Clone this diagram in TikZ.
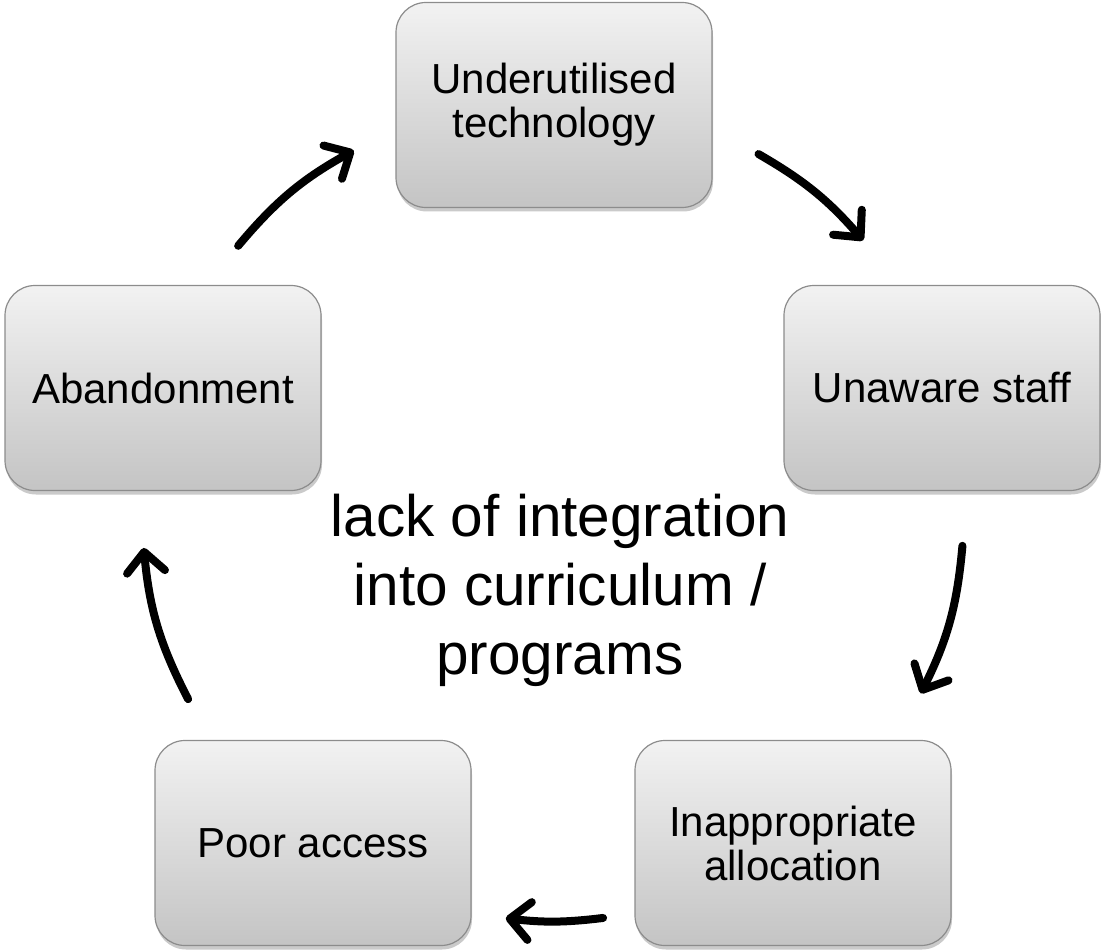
\documentclass[tikz,border=0pt]{standalone}
\usepackage{fontspec}
\setmainfont{Liberation Sans}
\usetikzlibrary{arrows.meta,shadows,calc}
\definecolor{boxtop}{HTML}{F2F2F2}
\definecolor{boxbot}{HTML}{C4C4C4}
\definecolor{boxline}{HTML}{8C8C8C}
\tikzset{
  cyclebox/.style={draw=boxline, line width=1.2pt, rounded corners=30pt,
    top color=boxtop, bottom color=boxbot,
    minimum width=316pt, minimum height=205pt, align=center,
    font=\fontsize{42}{44}\selectfont, inner sep=0pt,
    drop shadow={shadow xshift=1pt, shadow yshift=-4pt, opacity=0.35, fill=black!60}},
  cyclearrow/.style={line width=8pt, line cap=round,
    -{Straight Barb[length=20pt,width=38pt,round]}},
}
\begin{document}
\begin{tikzpicture}[x=1pt,y=-1pt]
\useasboundingbox (0,0) rectangle (1101,952);
\node[cyclebox] (top) at (554,105) {Underutilised\\technology};
\node[cyclebox] (right) at (942,388) {Unaware staff};
\node[cyclebox] (br) at (793,843) {Inappropriate\\allocation};
\node[cyclebox] (bl) at (313,843) {Poor access};
\node[cyclebox] (left) at (163,388) {Abandonment};
\node[align=center, font=\fontsize{58.5}{69}\selectfont] (mid) at (560,590)
  {lack of integration\\into curriculum /\\programs};
\coordinate (c) at (553,510);
\coordinate (a1s) at ($(c)+(-140:411)$);
\coordinate (a1e) at ($(c)+(-119:411)$);
\coordinate (a2s) at ($(c)+(-60:411)$);
\coordinate (a2e) at ($(c)+(-41:411)$);
\coordinate (a3s) at ($(c)+(5:411)$);
\coordinate (a3e) at ($(c)+(26.5:411)$);
\coordinate (a4s) at ($(c)+(83:411)$);
\coordinate (a4e) at ($(c)+(96.6:411)$);
\coordinate (a5s) at ($(c)+(152.6:411)$);
\coordinate (a5e) at ($(c)+(174.7:411)$);
\draw[cyclearrow] (a1s) to[bend left=10.5] (a1e);
\draw[cyclearrow] (a2s) to[bend left=9.5] (a2e);
\draw[cyclearrow] (a3s) to[bend left=10.7] (a3e);
\draw[cyclearrow] (a4s) to[bend left=6.8] (a4e);
\draw[cyclearrow] (a5s) to[bend left=11] (a5e);
\end{tikzpicture}
\end{document}
